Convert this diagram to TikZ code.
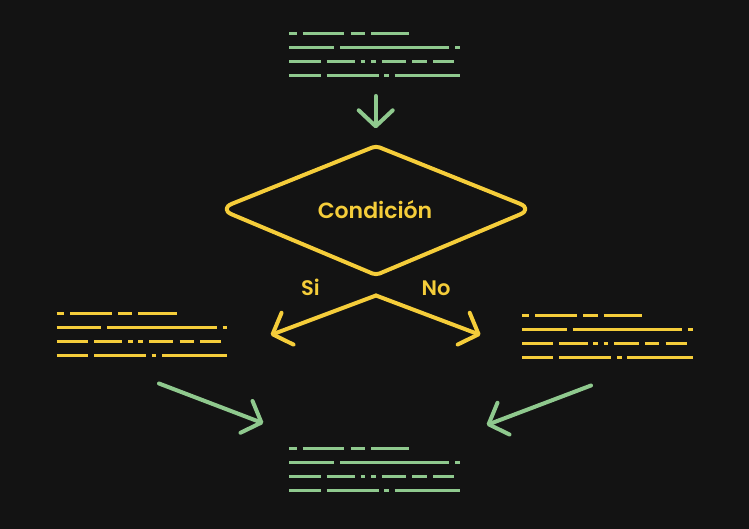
\documentclass[tikz,border=0pt]{standalone}
\usepackage{fontspec}
\setmainfont{Poppins}[BoldFont={Poppins SemiBold}]
\usetikzlibrary{arrows.meta}
\definecolor{bg}{HTML}{131313}
\definecolor{gr}{HTML}{8FC98E}
\definecolor{yl}{HTML}{F5CD3A}
\tikzset{
  dashln/.style={line width=3pt},
  arr/.style={line width=4pt, line cap=round, -{Straight Barb[length=16pt,width=34pt,round]}},
  lbl/.style={font=\bfseries\fontsize{21}{24}\selectfont, text=yl, inner sep=0pt, anchor=base},
}
\newcommand\dashblock[4]{%
  \begin{scope}[shift={(#1,#2)}, draw=#3]
    \draw[dashln,#3] (0,0) -- (7.4,0) (13.4,0) -- (55,0) (61.4,0) -- (75.7,0) (81.7,0) -- (120,0);
    \draw[dashln,#3] (0,14) -- (44.7,14) (50.7,14) -- (160,14) (166,14) -- (170.7,14);
    \draw[dashln,#3] (0,28) -- (31.4,28) (37.4,28) -- (65.7,28) (71.4,28) -- (76,28) (81.7,28) -- (86.4,28) (92.4,28) -- (116.7,28) (123,28) -- (137.4,28) (143.7,28) -- (164.7,28);
    \draw[dashln,#3] (0,42) -- (31.4,42) (37.4,42) -- (89.4,42) (95,42) -- (99.7,42) (105.4,42) -- (170.7,42);
    \node[inner sep=0pt, minimum width=171pt, minimum height=46pt, anchor=north west] (#4) at (0,-2) {};
  \end{scope}}
\begin{document}
\begin{tikzpicture}[x=1pt,y=-1pt]
  \fill[bg] (0,0) rectangle (749,529);
  \useasboundingbox (0,0) rectangle (749,529);
  % text blocks
  \dashblock{289.3}{33.3}{gr}{topblk}
  \dashblock{56.7}{313.3}{yl}{leftblk}
  \dashblock{522}{315}{yl}{rightblk}
  \dashblock{289.3}{448.3}{gr}{botblk}
  % decision
  \coordinate (dT) at (376,146);
  \coordinate (dR) at (533,209);
  \coordinate (dB) at (376,275);
  \coordinate (dL) at (219,209);
  \draw[yl, line width=4pt, line join=round]
    (dT) [rounded corners=14pt] -- (dR) [rounded corners=4pt] -- (dB) [rounded corners=14pt] -- (dL) [rounded corners=4pt] -- cycle;
  \node[lbl, font=\bfseries\fontsize{22}{26}\selectfont] (cond) at (375,218.3) {Condición};
  \node[lbl] (si) at (310.5,295) {Si};
  \node[lbl] (no) at (436,295) {No};
  % arrows
  \coordinate (a0s) at (375.7,96);
  \coordinate (a0e) at (375.7,128.3);
  \draw[arr, gr] (a0s) -- (a0e);
  \coordinate (apex) at (376,295.5);
  \coordinate (siT) at (270.7,335);
  \coordinate (noT) at (480.5,335);
  \draw[arr, yl] (apex) -- (siT);
  \draw[arr, yl] (apex) -- (noT);
  \coordinate (gLs) at (159,383.5);
  \coordinate (gLe) at (263.3,423.3);
  \coordinate (gRs) at (591,385.5);
  \coordinate (gRe) at (486.7,425);
  \draw[arr, gr] (gLs) -- (gLe);
  \draw[arr, gr] (gRs) -- (gRe);
\end{tikzpicture}
\end{document}
